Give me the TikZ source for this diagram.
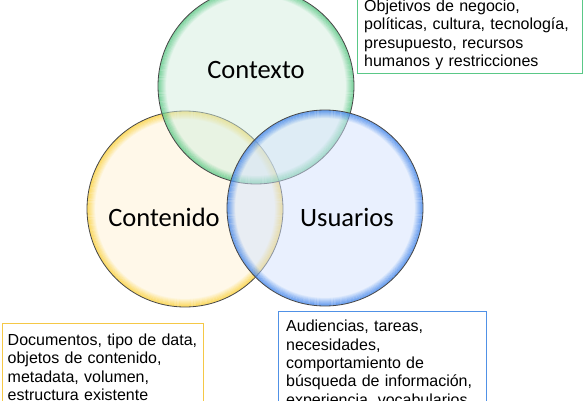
\documentclass[tikz,border=0pt]{standalone}
\usepackage{fontspec}
\setmainfont{Liberation Sans}
\newfontfamily\carlitofont{Carlito}
\definecolor{gfill}{RGB}{211,238,222}
\definecolor{yfill}{RGB}{255,242,212}
\definecolor{bfill}{RGB}{211,226,253}
\definecolor{gglow}{RGB}{60,190,110}
\definecolor{yglow}{RGB}{250,200,20}
\definecolor{bglow}{RGB}{30,110,230}
\definecolor{gline}{RGB}{90,200,135}
\definecolor{yline}{RGB}{245,200,70}
\definecolor{bline}{RGB}{80,145,230}
\newcommand\vennring[3]{%
  \fill[#2, fill opacity=0.5] (#1.center) circle (98pt);
  \foreach \i in {0,...,7}{%
    \pgfmathsetmacro\rr{97.4-\i*1.0}%
    \pgfmathsetmacro\op{0.6*(1-\i/8)}%
    \draw[#3, draw opacity=\op, line width=1.05pt] (#1.center) circle (\rr pt);
  }
  \draw[ringborder] (#1.center) circle (98pt);
}
\tikzset{
  ringborder/.style={draw=black!72, line width=0.8pt},
  vennnode/.style={circle, minimum size=196pt, inner sep=0pt, draw=none},
  lbl/.style={font=\carlitofont\fontsize{26.5}{30}\selectfont, anchor=base, inner sep=0pt},
  boxtext/.style={font=\fontsize{16}{18.4}\selectfont, align=left, anchor=north west, inner sep=0pt, text width=#1},
  frame/.style={draw=#1, line width=0.9pt, inner sep=0pt, anchor=north west, fill=white}
}
\begin{document}
\begin{tikzpicture}[x=1pt, y=-1pt]
\useasboundingbox (0,0) rectangle (584,400);
\clip (0,0) rectangle (584,400);
% circles
\node[vennnode] (ctx) at (256,86) {};
\node[vennnode] (cont) at (185,209) {};
\node[vennnode] (usr) at (325,208) {};
\vennring{cont}{yfill}{yglow}
\vennring{ctx}{gfill}{gglow}
\vennring{usr}{bfill}{bglow}
% labels
\node[lbl] (lctx) at (256,78) {Contexto};
\node[lbl] (lcont) at (164,226) {Contenido};
\node[lbl] (lusr) at (347,226) {Usuarios};
% boxes
\node[frame=gline, minimum width=225pt, minimum height=85pt] (gbox) at (357,-12) {};
\node[boxtext=212pt] (gtext) at (364,-2) {\rule{0pt}{13pt}Objetivos de negocio,\\ políticas, cultura, tecnología,\\ presupuesto, recursos\\ humanos y restricciones};
\node[frame=yline, minimum width=201pt, minimum height=100pt] (ybox) at (2,323) {};
\node[boxtext=192pt] (ytext) at (7.5,332) {\rule{0pt}{13pt}Documentos, tipo de data,\\ objetos de contenido,\\ metadata, volumen,\\ estructura existente};
\node[frame=bline, minimum width=208pt, minimum height=100pt] (bbox) at (278,311) {};
\node[boxtext=196pt] (btext) at (286,318.5) {\rule{0pt}{13pt}Audiencias, tareas,\\ necesidades,\\ comportamiento de\\ búsqueda de información,\\ experiencia, vocabularios};
\end{tikzpicture}
\end{document}
